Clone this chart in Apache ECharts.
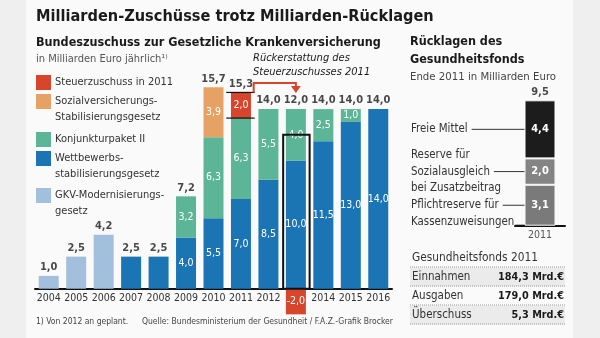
<!DOCTYPE html>
<html><head><meta charset="utf-8">
<script src="https://cdn.jsdelivr.net/npm/echarts@6/dist/echarts.min.js"></script>
<style>html,body{margin:0;padding:0;background:#efefef}#c{width:600px;height:338px}</style>
</head><body><div id="c"></div>
<script>
const FONT = "'DejaVu Sans Condensed','DejaVu Sans',sans-serif";
const fmt = v => Number(v).toFixed(1).replace('.', ',');

// ---- Main chart data (Mrd. Euro) ----
const years = ['2004','2005','2006','2007','2008','2009','2010','2011','2012','2013','2014','2015','2016'];
const wettbewerb = ['-','-','-',2.5,2.5,4.0,5.5,7.0,8.5,10.0,11.5,13.0,14.0];
const konjunktur = ['-','-','-','-','-',3.2,6.3,6.3,5.5,4.0,2.5,1.0,'-'];
const sozialStab = ['-','-','-','-','-','-',3.9,'-','-','-','-','-','-'];
const steuer     = ['-','-','-','-','-','-','-',2.0,'-',-2.0,'-','-','-'];
const gkv        = [1.0,2.5,4.2,'-','-','-','-','-','-','-','-','-','-'];
const totals     = [1.0,2.5,4.2,2.5,2.5,7.2,15.7,15.3,14.0,12.0,14.0,14.0,14.0];
const refundFrom = '2011', refundTo = '2013', refundNet = 12.0;

// ---- Reserve chart data ----
const reserveYear = ['2011'];
const pflichtreserve = [3.1];
const sozialReserve = [2.0];
const freieMittel = [4.4];
const reserveTotal = [9.5];
const reserveNames = ['Pflichtreserve für\nKassenzuweisungen', 'Reserve für\nSozialausgleich\nbei Zusatzbeitrag', 'Freie Mittel'];

// ---- Table ----
const tableRows = ['Einnahmen', 'Ausgaben', 'Überschuss'];
const tableValues = [184.3, 179.0, 5.3];

const C = {red:'#d6452c', orange:'#e6a265', green:'#5cb596', blue:'#1b75b4', light:'#a3bfde'};
const num = v => (v === '-' ? 0 : v);
const positiveTop = years.map((y,i) => [wettbewerb,konjunktur,sozialStab,steuer,gkv].reduce((s,a)=>s+Math.max(0,num(a[i])),0));

function bar(name, data, color, showInside) {
  return {type:'bar', name, data, stack:'main', barWidth:20, itemStyle:{color}, clip:false,
    emphasis:{disabled:true}, silent:true,
    label:{show:true, position:'inside', color:'#fff', fontFamily:FONT, fontSize:10.5,
      formatter:p => (showInside(p.value) ? fmt(p.value) : '')}};
}

const chart = echarts.init(document.getElementById('c'), null, {renderer:'canvas'});
const option = {
  animation:false,
  backgroundColor:'#efefef',
  grid:[
    {left:35, top:57.8, width:357, height:230.9},
    {left:515, top:93.7, width:50, height:132}
  ],
  xAxis:[
    {type:'category', data:years, gridIndex:0, axisTick:{show:false},
     axisLine:{onZero:false, lineStyle:{color:'#111', width:2}},
     axisLabel:{fontFamily:FONT, fontSize:10.5, color:'#333', margin:4, interval:0,
       formatter:v => (v === refundTo ? '' : v)}},
    {type:'category', data:reserveYear, gridIndex:1, axisTick:{show:false},
     axisLine:{onZero:false, lineStyle:{color:'#111', width:2}},
     axisLabel:{fontFamily:FONT, fontSize:10.5, color:'#555', margin:4}}
  ],
  yAxis:[
    {type:'value', gridIndex:0, min:0, max:18, show:false},
    {type:'value', gridIndex:1, min:0, max:10, show:false}
  ],
  series:[
    bar('Wettbewerbsstabilisierungsgesetz', wettbewerb, C.blue, v => v >= 3),
    bar('Konjunkturpaket II', konjunktur, C.green, v => true),
    bar('Sozialversicherungs-Stabilisierungsgesetz', sozialStab, C.orange, v => true),
    Object.assign(bar('Steuerzuschuss in 2011', steuer, C.red, v => true), {z:3}),
    bar('GKV-Modernisierungsgesetz', gkv, C.light, v => false),
    {type:'scatter', data:years.map((y,i)=>[y, positiveTop[i]]), symbolSize:0, silent:true, z:5,
     label:{show:true, position:'top', distance:3, formatter:p => fmt(totals[p.dataIndex]),
       color:'#1a1a1a', fontFamily:FONT, fontSize:11, fontWeight:'bold'}},
    // box around net value of 2013
    {type:'custom', data:[[refundTo, refundNet]], silent:true, z:6,
     renderItem:(params, api) => {
       const c0 = api.coord([api.value(0), 0]), c1 = api.coord([api.value(0), api.value(1)]);
       const w = api.size([1, 0])[0];
       return {type:'rect', shape:{x:c0[0]-w/2+1, y:c1[1], width:w-1, height:c0[1]-c1[1]},
         style:{fill:'none', stroke:'#111', lineWidth:2}};
     }},
    // bracket lines around the 2011 tax grant and arrow to 2013
    {type:'custom', data:[[refundFrom, positiveTop[years.indexOf(refundFrom)] - steuer[years.indexOf(refundFrom)], positiveTop[years.indexOf(refundFrom)]]],
     silent:true, z:6,
     renderItem:(params, api) => {
       const x = api.coord([api.value(0), 0])[0];
       const yLo = api.coord([api.value(0), api.value(1)])[1];
       const yHi = api.coord([api.value(0), api.value(2)])[1];
       const w = api.size([1, 0])[0];
       const xTo = api.coord([refundTo, 0])[0];
       const yTo = api.coord([refundTo, positiveTop[years.indexOf(refundTo)]])[1];
       const xr = x + w/2 - 1, yTop = yHi - 9.5, tip = yTo - 16;
       return {type:'group', children:[
         {type:'line', shape:{x1:x-w/2-1, y1:yHi, x2:x+w/2, y2:yHi}, style:{stroke:'#111', lineWidth:1.2}},
         {type:'line', shape:{x1:x-w/2-1, y1:yLo, x2:x+w/2, y2:yLo}, style:{stroke:'#111', lineWidth:1.2}},
         {type:'polyline', shape:{points:[[xr, yHi], [xr, yTop], [xTo, yTop], [xTo, tip-6]]},
          style:{stroke:C.red, lineWidth:2, fill:null}},
         {type:'polygon', shape:{points:[[xTo-5, tip-7], [xTo+5, tip-7], [xTo, tip]]}, style:{fill:C.red}}
       ]};
     }},
    // reserve chart
    ...[[pflichtreserve,'#7a7a7a'],[sozialReserve,'#848484'],[freieMittel,'#1c1c1c']].map(([d,col],k) => ({
      type:'bar', name:reserveNames[k], data:d, stack:'res', xAxisIndex:1, yAxisIndex:1, barWidth:31,
      silent:true, itemStyle:{color:col, borderColor:'#fafafa', borderWidth:1},
      label:{show:true, position:'inside', color:'#fff', fontFamily:FONT, fontSize:11, fontWeight:'bold',
        formatter:p => fmt(p.value)}})),
    {type:'scatter', xAxisIndex:1, yAxisIndex:1, data:[[reserveYear[0], pflichtreserve[0]+sozialReserve[0]+freieMittel[0]]],
     symbolSize:0, silent:true,
     label:{show:true, position:'top', distance:3, formatter:p => fmt(reserveTotal[p.dataIndex]),
       color:'#1a1a1a', fontFamily:FONT, fontSize:11, fontWeight:'bold'}}
  ]
};
chart.setOption(option);

// ---- static texts / annotations ----
const meas = document.createElement('canvas').getContext('2d');
function tw(t, size, weight) { meas.font = (weight||'normal') + ' ' + size + 'px ' + FONT; return meas.measureText(t).width; }
const g = [];
function txt(x, y, t, o) {
  o = o || {};
  g.push({type:'text', x, y, z:10, style:{text:t, fill:o.fill||'#333', font:(o.style||'normal')+' '+(o.weight||'normal')+' '+(o.size||12)+'px '+FONT,
    textAlign:o.align||'left', textVerticalAlign:'middle'}});
}
g.push({type:'rect', z:-10, shape:{x:26, y:0, width:547, height:338}, style:{fill:'#fafafa'}});
txt(36, 17, 'Milliarden-Zuschüsse trotz Milliarden-Rücklagen', {weight:'bold', size:16.2, fill:'#1a1a1a'});
txt(36, 43, 'Bundeszuschuss zur Gesetzliche Krankenversicherung', {weight:'bold', size:12.5, fill:'#1a1a1a'});
txt(36, 59, 'in Milliarden Euro jährlich¹⁾', {size:11, fill:'#555'});
txt(253, 58, 'Rückerstattung des', {style:'italic', size:11, fill:'#1a1a1a'});
txt(253, 72, 'Steuerzuschusses 2011', {style:'italic', size:11, fill:'#1a1a1a'});
// legend
const legendItems = [
  [C.red, ['Steuerzuschuss in 2011'], 82],
  [C.orange, ['Sozialversicherungs-','Stabilisierungsgesetz'], 101],
  [C.green, ['Konjunkturpaket II'], 139],
  [C.blue, ['Wettbewerbs-','stabilisierungsgesetz'], 158],
  [C.light, ['GKV-Modernisierungs-','gesetz'], 195]
];
legendItems.forEach(([col, lines, y]) => {
  g.push({type:'rect', z:10, shape:{x:36, y:y-7, width:15, height:15}, style:{fill:col}});
  lines.forEach((l, j) => txt(55, y + j*16.5, l, {size:11, fill:'#333'}));
});
txt(36, 322, '1) Von 2012 an geplant.', {size:8.5, fill:'#444'});
txt(142, 322, 'Quelle: Bundesministerium der Gesundheit / F.A.Z.-Grafik Brocker', {size:8.5, fill:'#444'});

// right panel
txt(410, 42, 'Rücklagen des', {weight:'bold', size:12.5, fill:'#1a1a1a'});
txt(410, 60, 'Gesundheitsfonds', {weight:'bold', size:12.5, fill:'#1a1a1a'});
txt(410, 77, 'Ende 2011 in Milliarden Euro', {size:11.3, fill:'#444'});
const barLeft = chart.convertToPixel({xAxisIndex:1, yAxisIndex:1}, [reserveYear[0], 0])[0] - 15.5;
const segs = [pflichtreserve[0], sozialReserve[0], freieMittel[0]];
let base = 0;
const mids = segs.map(v => { const m = base + v/2; base += v; return m; });
const labelSpecs = [
  {lines:['Pflichtreserve für','Kassenzuweisungen'], anchor:0},
  {lines:['Reserve für','Sozialausgleich','bei Zusatzbeitrag'], anchor:1},
  {lines:['Freie Mittel'], anchor:0}
];
labelSpecs.forEach((s, k) => {
  const y = chart.convertToPixel({xAxisIndex:1, yAxisIndex:1}, [reserveYear[0], mids[k]])[1];
  s.lines.forEach((l, j) => txt(411, y + (j - s.anchor)*16.5, l, {size:11.4, fill:'#333'}));
  const x0 = 411 + tw(s.lines[s.anchor], 11.4) + 4;
  g.push({type:'line', z:10, shape:{x1:x0, y1:y, x2:barLeft, y2:y}, style:{stroke:'#333', lineWidth:1}});
  if (k === 0) {
    const y2 = chart.convertToPixel({xAxisIndex:1, yAxisIndex:1}, [reserveYear[0], 0])[1];
    const x1 = 411 + tw(s.lines[1], 11.4) + 1;
    g.push({type:'line', z:10, shape:{x1:x1, y1:y2, x2:barLeft, y2:y2}, style:{stroke:'#111', lineWidth:2}});
  }
});
// table
txt(412, 258, 'Gesundheitsfonds 2011', {size:11.8, fill:'#333'});
const rowY = [277, 296, 315];
[267, 286, 305, 324].forEach(y => g.push({type:'line', z:10, shape:{x1:410, y1:y, x2:565, y2:y},
  style:{stroke:'#999', lineWidth:1, lineDash:[1,1]}}));
tableRows.forEach((r, i) => {
  if (i !== 1) g.push({type:'rect', z:9, shape:{x:410, y:rowY[i]-9.5, width:155, height:19}, style:{fill:'#ebebeb'}});
  txt(412, rowY[i], r, {size:11.5, fill:'#333'});
  txt(564, rowY[i], fmt(tableValues[i]) + ' Mrd.€', {size:10.8, weight:'bold', fill:'#1a1a1a', align:'right'});
});
chart.setOption({graphic:{elements:g}});
</script></body></html>
